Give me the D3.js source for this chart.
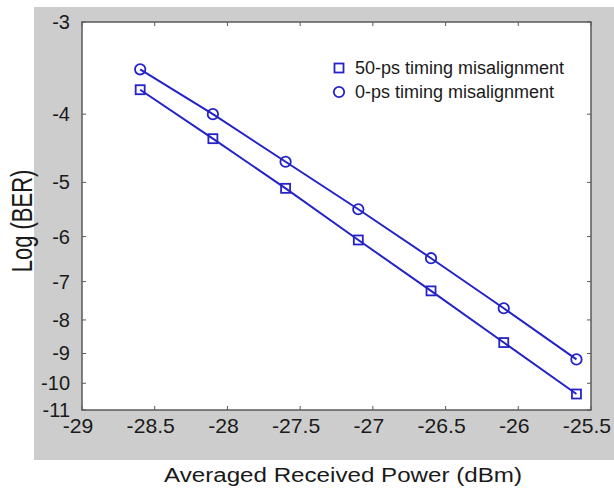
<!DOCTYPE html>
<html>
<head>
<meta charset="utf-8">
<script src="https://cdn.jsdelivr.net/npm/d3@7"></script>
<style>
  body { margin: 0; background: #fff; }
  svg { display: block; }
</style>
</head>
<body>
<div id="chart"></div>
<script>
// received power (dBm)
var power = [-28.6, -28.1, -27.6, -27.1, -26.6, -26.1, -25.6];
// log(BER) values
var ber50ps = [-3.70, -4.33, -5.10, -6.07, -7.23, -8.66, -10.39];
var ber0ps = [-3.47, -4.00, -4.67, -5.47, -6.46, -7.68, -9.19];
var xTicks = [-29, -28.5, -28, -27.5, -27, -26.5, -26, -25.5];
var yTicks = [-3, -4, -5, -6, -7, -8, -9, -10, -11];
var seriesNames = ["50-ps timing misalignment", "0-ps timing misalignment"];

(function () {
  var W = 614, H = 492;
  var blue = "#2323c8";
  var font = "Liberation Sans, Arial, Helvetica, sans-serif";

  var svg = d3.select("#chart").append("svg")
    .attr("width", W)
    .attr("height", H);

  // gray figure background
  svg.append("rect")
    .attr("x", 34).attr("y", 7)
    .attr("width", W - 34).attr("height", 453)
    .attr("fill", "#cdcdcd");

  var pl = 82, pr = 591, pt = 22, pb = 410;

  svg.append("rect")
    .attr("x", pl).attr("y", pt)
    .attr("width", pr - pl).attr("height", pb - pt)
    .attr("fill", "#fff");

  var x = d3.scaleLinear().domain([-29, -25.5]).range([pl, pr]);

  // BER axis: log scale on (-log(BER) - 0.6)
  var yLog = d3.scaleLog().domain([2.4, 10.4]).range([pt, pb]);
  var y = function (v) { return yLog(-v - 0.6); };

  var tickLen = 4;
  var axisColor = "#5a5a5a";

  // box
  svg.append("rect")
    .attr("x", pl).attr("y", pt)
    .attr("width", pr - pl).attr("height", pb - pt)
    .attr("fill", "none")
    .attr("stroke", axisColor)
    .attr("stroke-width", 1.5);

  // x ticks (bottom + top)
  var xt = svg.append("g").attr("class", "x ticks");
  xTicks.forEach(function (t) {
    xt.append("line")
      .attr("x1", x(t)).attr("x2", x(t))
      .attr("y1", pb).attr("y2", pb - tickLen)
      .attr("stroke", axisColor);
    xt.append("line")
      .attr("x1", x(t)).attr("x2", x(t))
      .attr("y1", pt).attr("y2", pt + tickLen)
      .attr("stroke", axisColor);
    xt.append("text")
      .attr("transform", "translate(" + (x(t) - 4) + ",433) scale(1.06,1)")
      .attr("text-anchor", "middle")
      .attr("font-family", font)
      .attr("font-size", "20px")
      .attr("fill", "#1a1a1a")
      .text(t);
  });

  // y ticks (left + right)
  var yt = svg.append("g").attr("class", "y ticks");
  yTicks.forEach(function (t) {
    yt.append("line")
      .attr("x1", pl).attr("x2", pl + tickLen)
      .attr("y1", y(t)).attr("y2", y(t))
      .attr("stroke", axisColor);
    yt.append("line")
      .attr("x1", pr).attr("x2", pr - tickLen)
      .attr("y1", y(t)).attr("y2", y(t))
      .attr("stroke", axisColor);
    yt.append("text")
      .attr("x", 70).attr("y", y(t))
      .attr("dy", "0.35em")
      .attr("text-anchor", "end")
      .attr("font-family", font)
      .attr("font-size", "20px")
      .attr("fill", "#1a1a1a")
      .text(t);
  });

  // axis titles
  svg.append("text")
    .attr("x", 164).attr("y", 482)
    .attr("textLength", 358)
    .attr("lengthAdjust", "spacingAndGlyphs")
    .attr("font-family", font)
    .attr("font-size", "20px")
    .attr("fill", "#1a1a1a")
    .text("Averaged Received Power (dBm)");

  svg.append("text")
    .attr("transform", "translate(32,221) scale(1.3,1) rotate(-90)")
    .attr("text-anchor", "middle")
    .attr("font-family", font)
    .attr("font-size", "22px")
    .attr("fill", "#1a1a1a")
    .text("Log (BER)");

  // lines
  var line = d3.line()
    .x(function (d) { return x(d[0]); })
    .y(function (d) { return y(d[1]); });

  var data50 = power.map(function (p, i) { return [p, ber50ps[i]]; });
  var data0 = power.map(function (p, i) { return [p, ber0ps[i]]; });

  [data50, data0].forEach(function (dat) {
    svg.append("path")
      .datum(dat)
      .attr("d", line)
      .attr("fill", "none")
      .attr("stroke", blue)
      .attr("stroke-width", 2);
  });

  // markers
  function square(g, cx, cy) {
    g.append("rect")
      .attr("x", cx - 4.5).attr("y", cy - 4.5)
      .attr("width", 9).attr("height", 9)
      .attr("fill", "none")
      .attr("stroke", blue)
      .attr("stroke-width", 1.8);
  }
  function circle(g, cx, cy) {
    g.append("circle")
      .attr("cx", cx).attr("cy", cy)
      .attr("r", 5.2)
      .attr("fill", "none")
      .attr("stroke", blue)
      .attr("stroke-width", 1.8);
  }

  var marks = svg.append("g").attr("class", "markers");
  data50.forEach(function (d) { square(marks, x(d[0]), y(d[1])); });
  data0.forEach(function (d) { circle(marks, x(d[0]), y(d[1])); });

  // legend
  var legend = svg.append("g").attr("class", "legend");
  square(legend, 339, 68);
  circle(legend, 339, 92);
  seriesNames.forEach(function (name, i) {
    legend.append("text")
      .attr("x", 355).attr("y", 68 + i * 24)
      .attr("dy", "0.35em")
      .attr("font-family", font)
      .attr("font-size", "18px")
      .attr("fill", "#1a1a1a")
      .text(name);
  });
})();
</script>
</body>
</html>
